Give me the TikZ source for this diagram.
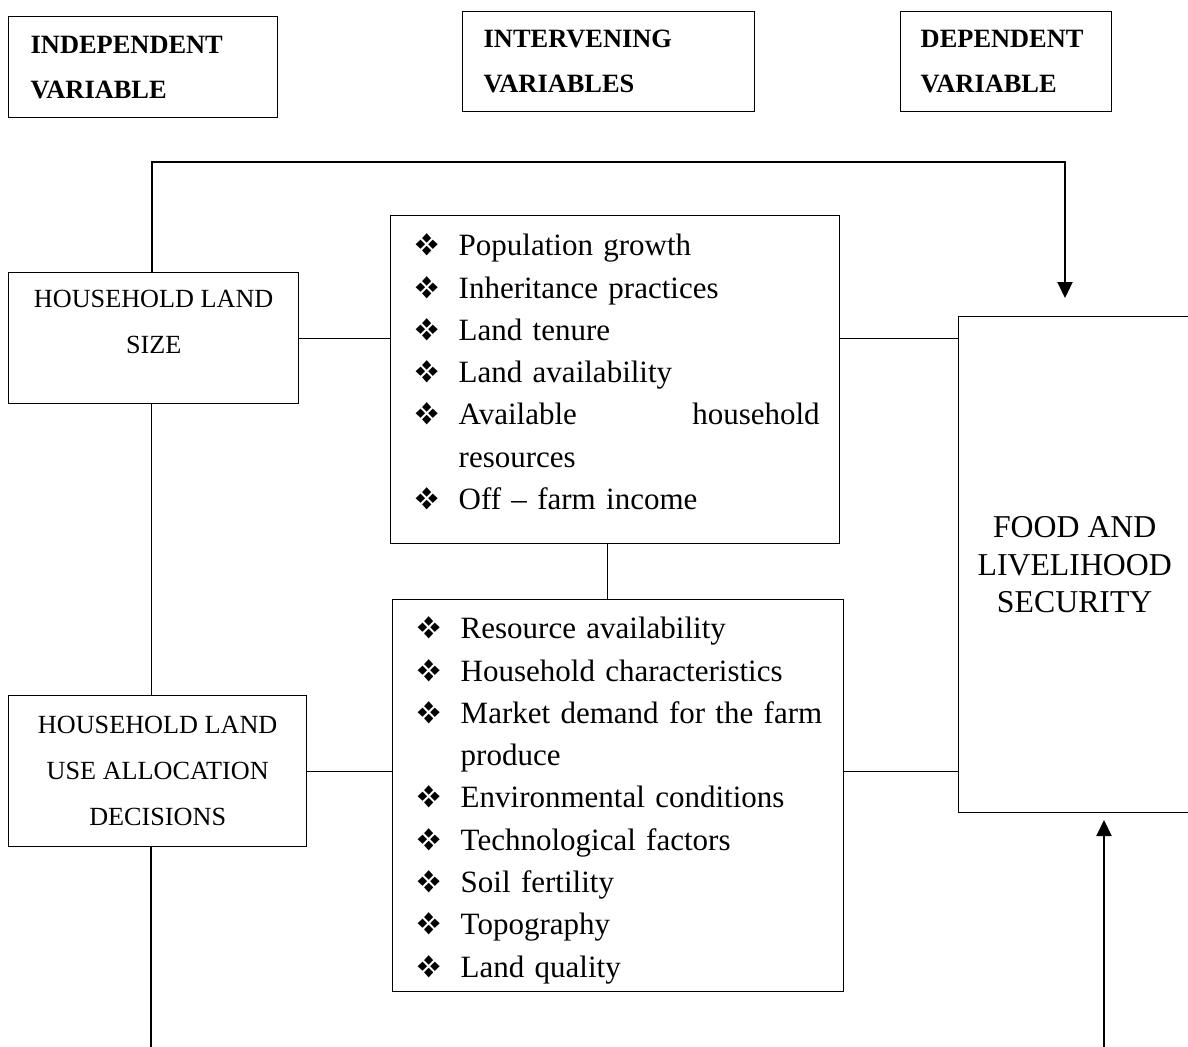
\documentclass[tikz,border=0pt]{standalone}
\usepackage{fontspec}
\setmainfont{Liberation Serif}
\usepackage{pifont}
\usetikzlibrary{arrows.meta}
\newcommand{\fitem}[1]{\hspace*{12pt}\makebox[22pt][l]{\ding{118}}#1}
\begin{document}
\begin{tikzpicture}[x=0.5pt,y=-0.5pt,head_box/.style={rectangle, draw=black, line width=0.7pt, anchor=north west, align=left, inner ysep=0pt, font=\fontsize{13.2}{22.5}\selectfont\bfseries},var_box/.style={rectangle, draw=black, line width=0.7pt, anchor=north west, align=center, inner sep=0pt, font=\fontsize{13.1}{23}\selectfont},list_box/.style={rectangle, draw=black, line width=0.7pt, anchor=north west, align=left, inner sep=0pt, font=\fontsize{15.5}{21.15}\selectfont},out_box/.style={rectangle, draw=black, line width=0.7pt, anchor=north west, align=center, inner sep=0pt, font=\fontsize{15.9}{18.75}\selectfont},link/.style={line width=0.6pt},flow/.style={line width=1.1pt, -{Triangle[length=8pt,width=7.5pt]}},]
            \useasboundingbox (0,0) rectangle (1188,1046);
            \node[head_box, inner xsep=11pt, text width=112.5pt, minimum height=50.5pt] (indep) at (8,16) {INDEPENDENT\\VARIABLE};
            \node[head_box, inner xsep=10.5pt, text width=125pt, minimum height=50pt] (interv) at (462,11) {INTERVENING\\VARIABLES};
            \node[head_box, inner xsep=10pt, text width=85.5pt, minimum height=50pt] (dep) at (900,11) {DEPENDENT\\VARIABLE};
            \node[var_box, minimum width=145pt, minimum height=65.5pt] (lsize) at (8,272) {HOUSEHOLD LAND\\SIZE\\[-6.5pt]\mbox{}};
            \node[var_box, minimum width=149pt, minimum height=75.5pt] (luad) at (8,695) {HOUSEHOLD LAND\\USE ALLOCATION\\DECISIONS};
            \node[list_box, text width=224.5pt, minimum height=164pt] (grow) at (390,215) {\fitem{Population growth}\\\fitem{Inheritance practices}\\\fitem{Land tenure}\\\fitem{Land availability}\\\fitem{\makebox[180.5pt][l]{Available\hfill household}}\\\hspace*{34pt}resources\\\fitem{Off -- farm income}\rule[-8pt]{0pt}{8pt}};
            \node[list_box, text width=225.5pt, minimum height=196pt] (decide) at (392,599) {\rule{0pt}{15.6pt}\fitem{Resource availability}\\\fitem{Household characteristics}\\\fitem{Market demand for the farm}\\\hspace*{34pt}produce\\\fitem{Environmental conditions}\\\fitem{Technological factors}\\\fitem{Soil fertility}\\\fitem{Topography}\\\fitem{Land quality}};
            \node[out_box, minimum width=116pt, minimum height=248pt] (food) at (958,316) {FOOD AND\\LIVELIHOOD\\SECURITY};
            \coordinate (tipA) at (1065,298);
            \coordinate (tipB) at (1104,820);
            \coordinate (baseB) at (1104,1050);
            \coordinate (endL) at (151,1050);
            \draw[link] (lsize.east) -- (lsize.east -| grow.west);
            \draw[link] (grow.east |- lsize.east) -- (lsize.east -| food.west);
            \draw[link] ([xshift=-3.75pt]grow.south) -- ([xshift=-3.75pt]grow.south |- decide.north);
            \draw[link] (luad.east) -- (luad.east -| decide.west);
            \draw[link] (decide.east |- luad.east) -- (luad.east -| food.west);
            \draw[link] ([xshift=-1pt]lsize.south) -- ([xshift=-1pt]lsize.south |- luad.north);
            \draw[link] (luad.south -| endL) -- (endL);
            \draw[flow] ([xshift=-1pt]lsize.north) -- ++(0,-110) -| (tipA);
            \draw[flow] (baseB) -- (tipB);
        \end{tikzpicture}
\end{document}
